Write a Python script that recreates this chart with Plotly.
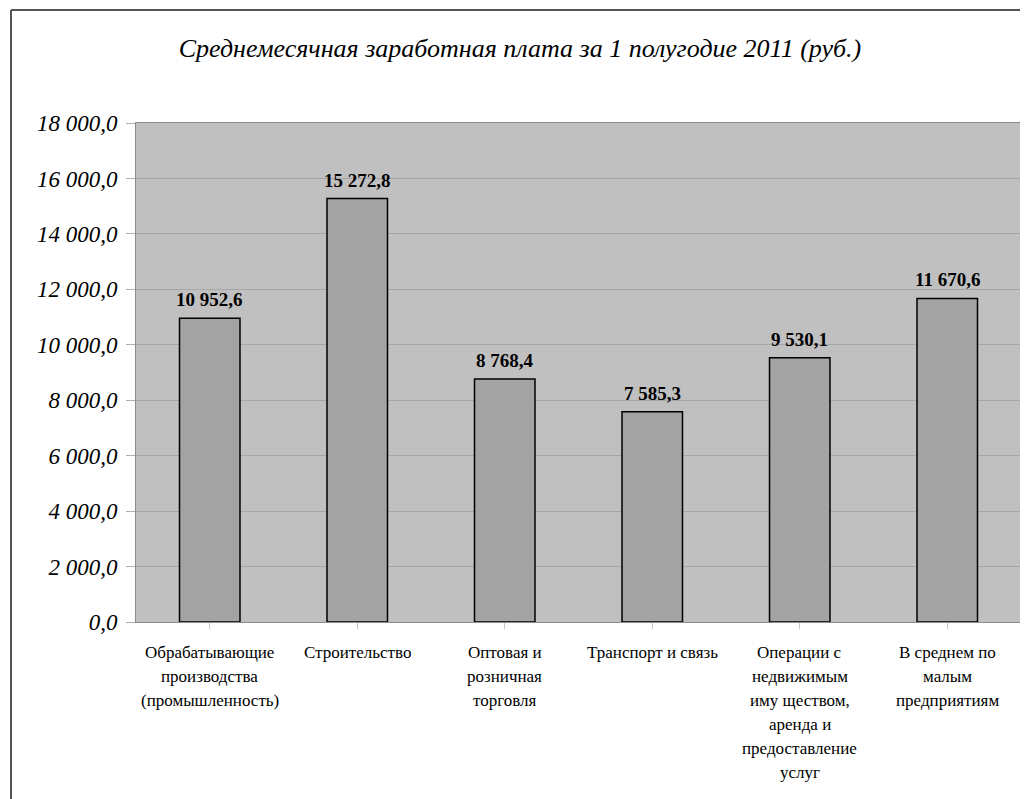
import plotly.graph_objects as go

# ---- data ----
categories = [
    "Обрабатывающие<br>производства<br>(промышленность)",
    "Строительство",
    "Оптовая и<br>розничная<br>торговля",
    "Транспорт и связь",
    "Операции с<br>недвижимым<br>иму ществом,<br>аренда и<br>предоставление<br>услуг",
    "В среднем по<br>малым<br>предприятиям",
]
values = [10952.6, 15272.8, 8768.4, 7585.3, 9530.1, 11670.6]
value_labels = ["10 952,6", "15 272,8", "8 768,4", "7 585,3", "9 530,1", "11 670,6"]
y_tick_values = [0, 2000, 4000, 6000, 8000, 10000, 12000, 14000, 16000, 18000]
y_tick_labels = ["0,0", "2 000,0", "4 000,0", "6 000,0", "8 000,0", "10 000,0",
                 "12 000,0", "14 000,0", "16 000,0", "18 000,0"]
title_text = "Среднемесячная заработная плата за 1 полугодие 2011 (руб.)"

SERIF = "Liberation Serif, Times New Roman, serif"
x_keys = list(range(len(categories)))

# figure is drawn with the page's 8px body margin in mind
W, H = 1020, 791
L, T, R, B = 128, 115, 7, 177
PW, PH = W - L - R, H - T - B

fig = go.Figure()
fig.add_trace(go.Bar(
    x=x_keys, y=values, width=0.41,
    marker=dict(color="#a3a3a3", line=dict(color="#000000", width=1.5)),
    hoverinfo="skip", showlegend=False,
))

annotations = []
for k, v, lab in zip(x_keys, values, value_labels):
    annotations.append(dict(x=k, y=v, xref="x", yref="y", text=lab, showarrow=False,
                            yanchor="bottom", yshift=6,
                            font=dict(family=SERIF, size=19, color="#000", weight="bold")))
for k, cat in zip(x_keys, categories):
    for i, line in enumerate(cat.split("<br>")):
        annotations.append(dict(x=k, y=0, xref="x", yref="paper", text=line, showarrow=False,
                                yanchor="middle", yshift=-30 - 24 * i,
                                font=dict(family=SERIF, size=17, color="#000")))

fx = (3 - L) / PW
fy = (T + PH - 2) / PH
shapes = [
    dict(type="line", xref="paper", yref="paper", x0=fx, x1=fx, y0=-B / PH - 0.05, y1=fy,
         line=dict(color="#555555", width=2)),
    dict(type="line", xref="paper", yref="paper", x0=fx, x1=1.02, y0=fy, y1=fy,
         line=dict(color="#555555", width=2)),
]

fig.update_layout(
    width=W, height=H,
    margin=dict(l=L, r=R, t=T, b=B),
    paper_bgcolor="#ffffff", plot_bgcolor="#c0c0c0",
    title=dict(text=title_text, x=512 / W, xanchor="center", y=1 - 40 / H, yanchor="middle",
               font=dict(family=SERIF, size=26, color="#000", style="italic")),
    xaxis=dict(range=[-0.5, len(categories) - 0.5], tickvals=x_keys, ticktext=[""] * len(x_keys),
               tickson="boundaries", ticks="outside", ticklen=6, tickcolor="#c8c8c8",
               showgrid=False, showline=True, linecolor="#8c8c8c", linewidth=1, mirror=True,
               zeroline=False, fixedrange=True),
    yaxis=dict(range=[0, 18000], tickvals=y_tick_values, ticktext=y_tick_labels,
               ticks="outside", ticklen=9, tickcolor="#b0b0b0", ticklabelstandoff=4,
               tickfont=dict(family=SERIF, size=23, color="#000", style="italic"),
               showgrid=True, gridcolor="#a6a6a6", gridwidth=1,
               showline=True, linecolor="#8c8c8c", linewidth=1, mirror=True,
               zeroline=False, fixedrange=True),
    annotations=annotations, shapes=shapes,
)

fig.write_html("out.html")
